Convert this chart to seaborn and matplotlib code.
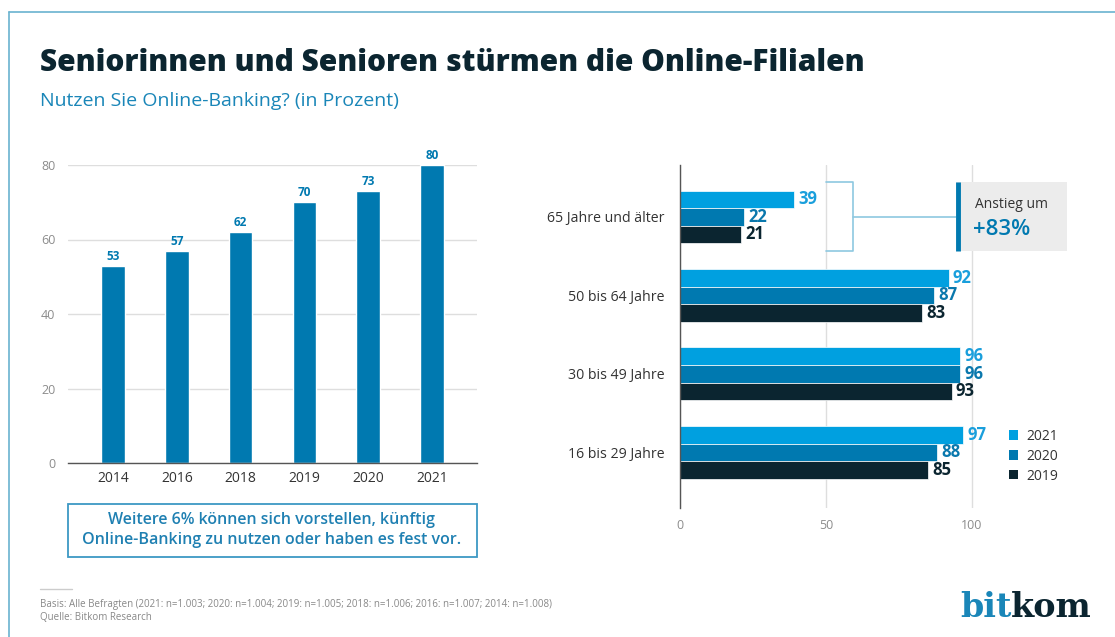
import matplotlib
matplotlib.use("Agg")
import matplotlib.pyplot as plt
from matplotlib.patches import Rectangle, Patch
from matplotlib.lines import Line2D
import pandas as pd
import seaborn as sns

# Daten links: Nutzung Online-Banking gesamt
jahre = ["2014", "2016", "2018", "2019", "2020", "2021"]
anteil = [53, 57, 62, 70, 73, 80]

# Daten rechts: nach Altersgruppen
gruppen = ["65 Jahre und älter", "50 bis 64 Jahre", "30 bis 49 Jahre", "16 bis 29 Jahre"]
serien = ["2021", "2020", "2019"]
werte_2021 = [39, 92, 96, 97]
werte_2020 = [22, 87, 96, 88]
werte_2019 = [21, 83, 93, 85]

DUNKEL = "#0b2530"
MITTEL = "#0079b0"
HELL = "#00a0e0"
GRAU = "#8c8c8c"
GRID = "#dedede"

W, H = 1115, 637


def fx(x):
    return x / W


def fy(y):
    return 1 - y / H


sns.set_theme(style="white")
plt.rcParams["font.family"] = ["Open Sans", "DejaVu Sans"]

fig = plt.figure(figsize=(W / 100, H / 100), dpi=100)
fig.patch.set_facecolor("white")

# Rahmen oben / links
fig.add_artist(Line2D([fx(9), fx(9)], [fy(12), fy(H)], color="#6ab3cf", lw=1.2))
fig.add_artist(Line2D([fx(9), fx(W)], [fy(12), fy(12)], color="#6ab3cf", lw=1.2))

# Titel
fig.text(fx(40), fy(63), "Seniorinnen und Senioren stürmen die Online-Filialen",
         fontsize=21.5, fontweight="heavy", color=DUNKEL, va="center", ha="left")
fig.text(fx(40), fy(101), "Nutzen Sie Online-Banking? (in Prozent)",
         fontsize=14, color="#1a86b8", va="center", ha="left")

# ---------- linkes Diagramm ----------
ax1 = fig.add_axes([fx(68), fy(463), (477 - 68) / W, (463 - 165) / H])
df1 = pd.DataFrame({"Jahr": jahre, "Anteil": anteil})
sns.barplot(data=df1, x="Jahr", y="Anteil", order=jahre,
            color=MITTEL, saturation=1, width=0.37, ax=ax1)
ax1.set_xlim(-0.705, 5.705)
ax1.set_ylim(0, 80)
ax1.set_yticks([0, 20, 40, 60, 80])
ax1.yaxis.grid(True, color=GRID, lw=1)
ax1.set_axisbelow(True)
ax1.set_xlabel("")
ax1.set_ylabel("")
for s in ["top", "right", "left"]:
    ax1.spines[s].set_visible(False)
ax1.spines["bottom"].set_color("#555555")
ax1.spines["bottom"].set_linewidth(1)
ax1.tick_params(axis="y", length=0, pad=9, labelsize=9, labelcolor=GRAU)
ax1.tick_params(axis="x", length=0, pad=6, labelsize=10, labelcolor="#333333")
for c in ax1.containers:
    ax1.bar_label(c, padding=2, fontsize=8.5, fontweight="bold", color=MITTEL)

# Hinweis-Box
fig.add_artist(Rectangle((fx(68), fy(557)), (477 - 68) / W, (557 - 504) / H,
                         transform=fig.transFigure, facecolor="none",
                         edgecolor="#3d98c4", lw=1.3))
fig.text(fx(272), fy(530), "Weitere 6% können sich vorstellen, künftig\n"
         "Online-Banking zu nutzen oder haben es fest vor.",
         ha="center", va="center", fontsize=11.5, fontweight="semibold",
         color="#1f80b2", linespacing=1.3)

# ---------- rechtes Diagramm ----------
ax2 = fig.add_axes([fx(680), fy(508), 115 * 2.92 / W, (508 - 165) / H])
df2 = pd.DataFrame({
    "Gruppe": gruppen * 3,
    "Jahr": ["2021"] * 4 + ["2020"] * 4 + ["2019"] * 4,
    "Wert": werte_2021 + werte_2020 + werte_2019,
})
farben = [HELL, MITTEL, DUNKEL]
sns.barplot(data=df2, x="Wert", y="Gruppe", hue="Jahr", hue_order=serien,
            order=gruppen, palette=farben, saturation=1, orient="h",
            width=0.67, gap=0, edgecolor="white", linewidth=0.5, ax=ax2)
ax2.set_xlim(0, 115)
ax2.set_ylim(3.71, -0.66)
ax2.set_xticks([0, 50, 100])
ax2.xaxis.grid(True, color=GRID, lw=1)
ax2.set_axisbelow(True)
ax2.set_xlabel("")
ax2.set_ylabel("")
for s in ["top", "right", "bottom"]:
    ax2.spines[s].set_visible(False)
ax2.spines["left"].set_color("#555555")
ax2.spines["left"].set_linewidth(1)
ax2.tick_params(axis="x", length=0, pad=8, labelsize=9, labelcolor=GRAU)
ax2.tick_params(axis="y", length=0, pad=11, labelsize=10.2, labelcolor="#333333")

label_farben = ["#1a9fdc", "#0a78ad", DUNKEL]
for c, col in zip(ax2.containers, label_farben):
    ax2.bar_label(c, padding=3, fontsize=12, fontweight="bold", color=col)

ax2.get_legend().remove()
handles = [Patch(facecolor=f, edgecolor="none") for f in farben]
fig.legend(handles, serien, loc="upper left",
           bbox_to_anchor=(fx(1009), fy(429)), frameon=False,
           handlelength=0.65, handleheight=0.65, handletextpad=0.6,
           labelspacing=0.35, fontsize=10, labelcolor="#333333",
           borderaxespad=0, borderpad=0)

# Klammer und Anstieg-Box bei "65 Jahre und älter"
klammer = "#8ec8e0"
ax2.plot([50, 59.2, 59.2, 50], [-0.44, -0.44, 0.44, 0.44], color=klammer,
         lw=1.2, clip_on=False, zorder=3)
ax2.plot([59.2, 94.5], [0, 0], color=klammer, lw=1.2, clip_on=False, zorder=3)
ax2.add_patch(Rectangle((94.5, -0.44), 38, 0.88, facecolor="#ececec",
                        edgecolor="none", clip_on=False, zorder=4))
ax2.plot([95.2, 95.2], [-0.44, 0.44], color=MITTEL, lw=3.5, clip_on=False,
         zorder=5, solid_capstyle="butt")
ax2.text(101, -0.16, "Anstieg um", fontsize=10, color="#333333",
         va="center", ha="left", zorder=6, clip_on=False)
ax2.text(100.5, 0.16, "+83%", fontsize=16, fontweight="semibold", color=MITTEL,
         va="center", ha="left", zorder=6, clip_on=False)

# Fußzeile
fig.add_artist(Line2D([fx(40), fx(72)], [fy(589), fy(589)], color="#cccccc", lw=1))
fig.text(fx(40), fy(604), "Basis: Alle Befragten (2021: n=1.003; 2020: n=1.004; "
         "2019: n=1.005; 2018: n=1.006; 2016: n=1.007; 2014: n=1.008)",
         fontsize=7, color="#888888", va="center", ha="left")
fig.text(fx(40), fy(617), "Quelle: Bitkom Research",
         fontsize=7, color="#888888", va="center", ha="left")

# Logo
t_bit = fig.text(fx(960), fy(617), "bit", fontsize=24, fontweight="bold",
                 family="DejaVu Serif", color="#1a86b8", va="baseline", ha="left")
ax2.annotate("kom", xy=(1, 0), xycoords=t_bit, fontsize=24, fontweight="bold",
             family="DejaVu Serif", color=DUNKEL, va="bottom", ha="left",
             annotation_clip=False)

fig.savefig("out.png", dpi=100)
